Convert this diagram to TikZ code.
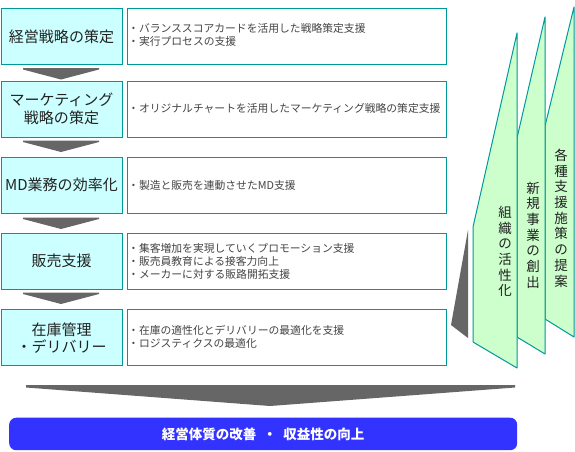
\documentclass[tikz,border=0pt]{standalone}
\usepackage{fontspec}
\setmainfont{Noto Sans CJK JP}
\definecolor{teal1}{HTML}{009999}
\definecolor{lcyan}{HTML}{CCFFFF}
\definecolor{lgreen}{HTML}{CCFFCC}
\definecolor{arr}{HTML}{666666}
\definecolor{barblue}{HTML}{3333FF}
\definecolor{txt}{HTML}{222222}
\definecolor{txt2}{HTML}{444444}
\begin{document}
\begin{tikzpicture}[x=1pt,y=-1pt,
  lbox/.style={draw=teal1, fill=lcyan, line width=1pt, minimum width=121pt, minimum height=56pt, inner sep=0pt, anchor=north west},
  rbox/.style={draw=teal1, fill=white, line width=1pt, minimum width=319pt, minimum height=56pt, inner sep=0pt, anchor=north west},
  ltext/.style={font=\fontsize{15}{17.5}\selectfont, text=txt, align=center, inner sep=0pt},
  rtext/.style={font=\fontsize{10.8}{13}\selectfont, text=txt2, align=left, anchor=west, inner sep=0pt},
  panel/.style={draw=teal1, fill=lgreen, line width=1pt, line join=round},
  vtext/.style={font=\fontsize{13.5}{15.7}\selectfont, text=txt, align=center, inner sep=0pt},
  downarrow/.style={fill=arr}
]
\useasboundingbox (0,0) rectangle (575,451);

% right panels (back to front)
\filldraw[panel] (545,126) -- (574,7) -- (574,337) -- (545,319) -- cycle;
\filldraw[panel] (517,138) -- (545,17) -- (545,354) -- (517,337) -- cycle;
\filldraw[panel] (473,227) -- (517,33) -- (517,368) -- (473,342) -- cycle;
\node[vtext] (p3) at (561,218) {各\\種\\支\\援\\施\\策\\の\\提\\案};
\node[vtext] (p2) at (533,235) {新\\規\\事\\業\\の\\創\\出};
\node[vtext] (p1) at (505,251.5) {組\\織\\の\\活\\性\\化};

% gray wedge
\fill[arr] (451,325) -- (468,230) -- (468,338) -- cycle;

% left boxes
\node[lbox] (l1) at (1,8) {};
\node[lbox] (l2) at (1,81) {};
\node[lbox] (l3) at (1,157) {};
\node[lbox] (l4) at (1,233) {};
\node[lbox] (l5) at (1,309) {};
\node[ltext] (lt1) at (61.5,36.5) {経営戦略の策定};
\node[ltext] (lt2) at (61.5,109) {マーケティング\\戦略の策定};
\node[ltext] (lt3) at (61.5,185) {MD業務の効率化};
\node[ltext] (lt4) at (61.5,261) {販売支援};
\node[ltext] (lt5) at (61.5,338) {在庫管理\\・デリバリー};

% right boxes
\node[rbox] (r1) at (127,8) {};
\node[rbox] (r2) at (127,81) {};
\node[rbox] (r3) at (127,157) {};
\node[rbox] (r4) at (127,233) {};
\node[rbox] (r5) at (127,309) {};
\node[rtext] (rt1) at (128,35) {・バランススコアカードを活用した戦略策定支援\\・実行プロセスの支援};
\node[rtext] (rt2) at (128,108.5) {・オリジナルチャートを活用したマーケティング戦略の策定支援};
\node[rtext] (rt3) at (128,185) {・製造と販売を連動させたMD支援};
\node[rtext] (rt4) at (128,261.5) {・集客増加を実現していくプロモーション支援\\・販売員教育による接客力向上\\・メーカーに対する販路開拓支援};
\node[rtext] (rt5) at (128,337) {・在庫の適性化とデリバリーの最適化を支援\\・ロジスティクスの最適化};

% small arrows
\foreach \t in {68,140.5,217.5,292.5}{
  \fill[downarrow] (23,\t) -- (99,\t) -- (99,\t+1.5) -- (61,\t+11.5) -- (23,\t+1.5) -- cycle;
}

% big arrow
\fill[downarrow] (26,385) -- (515,385) -- (515,387.5) -- (270,406) -- (26,387.5) -- cycle;

% bottom bar
\node[fill=barblue, rounded corners=7pt, minimum width=508pt, minimum height=32.5pt, inner sep=0pt, anchor=north west] (bar) at (9,417.5) {};
\node[font=\fontsize{13.5}{15}\selectfont\bfseries, text=white, inner sep=0pt] (bart) at (bar.center) {経営体質の改善\hspace{0.5em}・\hspace{0.5em}収益性の向上};
\end{tikzpicture}
\end{document}
